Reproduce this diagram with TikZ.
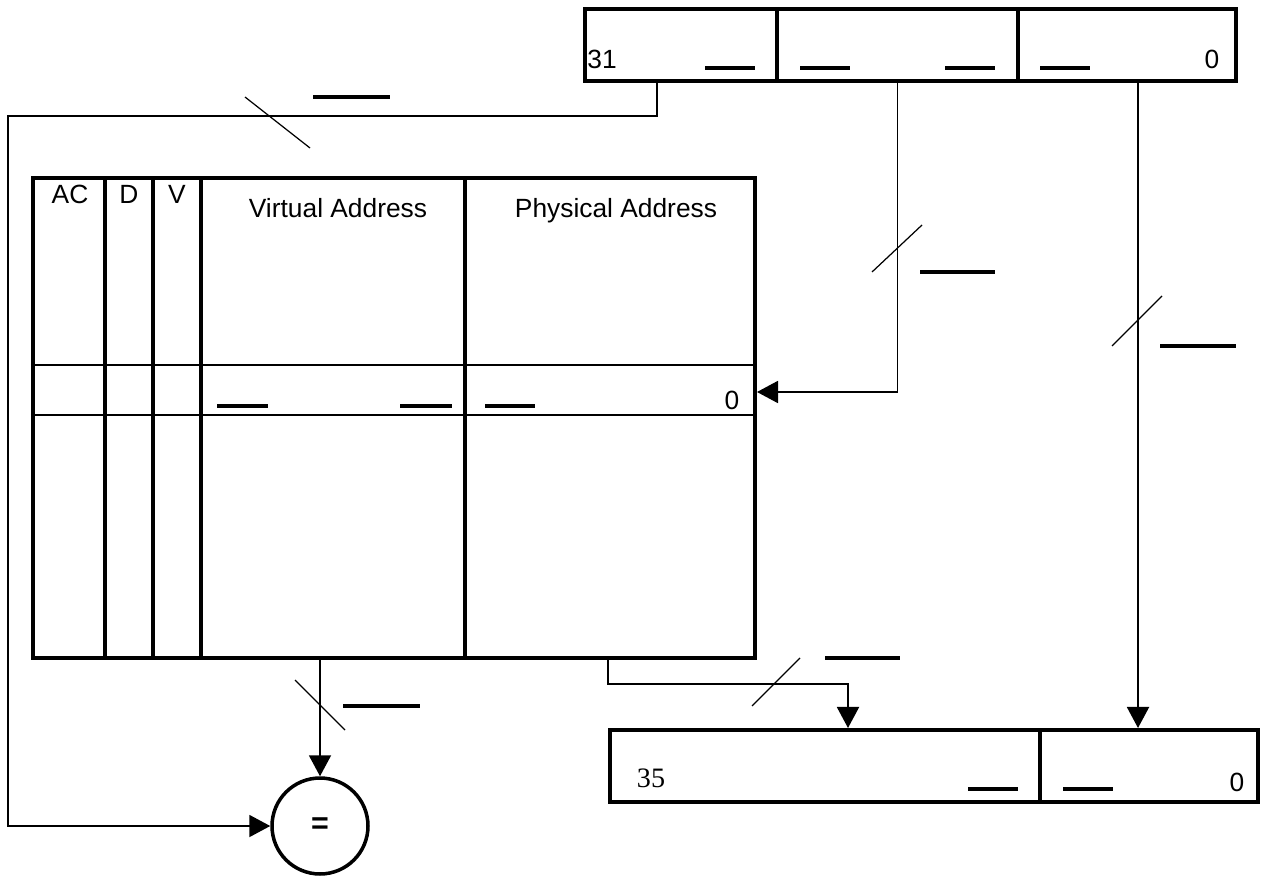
\documentclass[tikz,border=0pt]{standalone}
\usepackage{fontspec}
\setmainfont{Liberation Sans}
\newfontfamily\serifnum{Liberation Serif}
\usetikzlibrary{arrows.meta, positioning, calc}

\begin{document}
\begin{tikzpicture}[x=0.02cm, y=-0.02cm, >={Triangle[length=0.42cm, width=0.44cm]},
    field/.style={rectangle, draw, line width=2.3pt, minimum height=1.44cm, inner sep=0pt},
    column/.style={rectangle, draw, line width=2.3pt, minimum height=9.6cm, inner sep=0pt},
    bus/.style={line width=1.1pt},
    slash/.style={line width=0.7pt},
    blank/.style={line width=2.5pt},
    lbl/.style={font=\fontsize{15}{17}\selectfont, inner sep=0pt}]
  \useasboundingbox (0,0) rectangle (1266,878);

  % virtual address register
  \node[field, minimum width=3.84cm] (f31) at (681,45) {};
  \node[field, minimum width=4.82cm] (fmid) at (897.5,45) {};
  \node[field, minimum width=4.36cm] (flow) at (1127,45) {};
  \node[lbl] (b31) at (602,59) {31};
  \node[lbl] (b0) at (1212,59) {0};
  \draw[blank] (705,68) -- (755,68);
  \draw[blank] (800,68) -- (850,68);
  \draw[blank] (945,68) -- (995,68);
  \draw[blank] (1040,68) -- (1090,68);

  % translation table
  \node[column, minimum width=1.44cm] (colAC) at (69,418) {};
  \node[column, minimum width=0.96cm] (colD) at (129,418) {};
  \node[column, minimum width=0.96cm] (colV) at (177,418) {};
  \node[column, minimum width=5.28cm] (colVA) at (333,418) {};
  \node[column, minimum width=5.8cm] (colPA) at (610,418) {};
  \node[lbl, anchor=north] (hAC) at (70,185) {AC};
  \node[lbl, anchor=north] (hD) at (129,185) {D};
  \node[lbl, anchor=north] (hV) at (177,185) {V};
  \node[lbl, anchor=north] (hVA) at (338,198) {Virtual Address};
  \node[lbl, anchor=north] (hPA) at (616,198) {Physical Address};
  \draw[bus] (colAC.west |- 0,365) -- (colPA.east |- 0,365);
  \draw[bus] (colAC.west |- 0,415) -- (colPA.east |- 0,415);
  \draw[blank] (217,406) -- (268,406);
  \draw[blank] (400,406) -- (452,406);
  \draw[blank] (485,406) -- (535,406);
  \node[lbl] (r0) at (732,400) {0};

  % physical address register
  \node[field, minimum width=8.6cm] (pfn) at (825,766) {};
  \node[field, minimum width=4.36cm] (poff) at (1149,766) {};
  \node[font=\serifnum\fontsize{16}{18}\selectfont, inner sep=0pt] (p35) at (651,778) {35};
  \node[lbl] (p0) at (1237,782) {0};
  \draw[blank] (968,789) -- (1018,789);
  \draw[blank] (1063,789) -- (1113,789);

  % comparator
  \node[circle, draw, line width=2pt, minimum size=1.92cm, font=\LARGE\bfseries] (cmp) at (320,826) {=};

  % buses
  \draw[bus, ->] ([xshift=-0.48cm]f31.south) |- (8,116) |- (cmp.west);
  \draw[bus, ->] (fmid.south) |- (colPA.east |- 0,392);
  \draw[bus, ->] ([xshift=0.22cm]flow.south) -- ([xshift=-0.22cm]poff.north);
  \draw[bus, ->] (cmp.north |- colVA.south) -- (cmp.north);
  \draw[bus, ->] (colPA.south -| 608,0) -- ++(0,24) -| ([xshift=0.46cm]pfn.north);

  % bus widths
  \draw[slash] (245,97) -- (310,148);
  \draw[blank] (313,97) -- (390,97);
  \draw[slash] (872,272) -- (922,225);
  \draw[blank] (920,272) -- (995,272);
  \draw[slash] (1112,346) -- (1162,296);
  \draw[blank] (1160,346) -- (1236,346);
  \draw[slash] (295,680) -- (345,730);
  \draw[blank] (343,706) -- (420,706);
  \draw[slash] (752,706) -- (800,658);
  \draw[blank] (825,658) -- (900,658);
\end{tikzpicture}
\end{document}
